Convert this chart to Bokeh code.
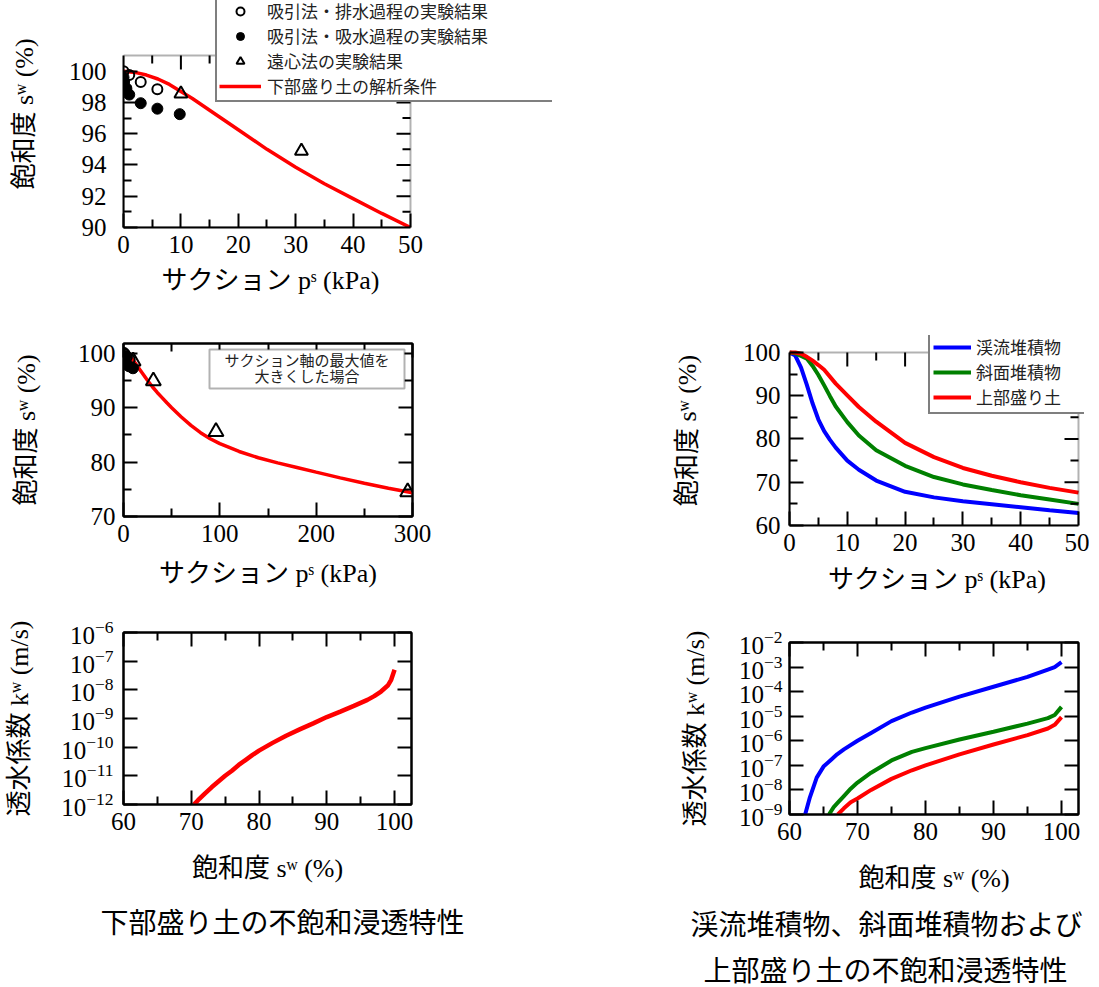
import numpy as np
from bokeh.plotting import figure
from bokeh.models import (FixedTicker, LinearAxis, LogAxis, Label, Legend, LegendItem,
                          BoxAnnotation, Range1d, CustomJSTickFormatter, Title)
from bokeh.layouts import column, row
from bokeh.embed import file_html
from bokeh.resources import INLINE

# ---------------- data ----------------
# 下部盛り土の解析条件 (保水性曲線)
lower_ps = [0, 2, 4, 6, 8, 10, 12, 15, 20, 25, 30, 35, 40, 45, 50, 60, 70, 80, 90, 100,
            120, 140, 160, 180, 200, 225, 250, 275, 300]
lower_sw = [100.0, 99.92, 99.75, 99.5, 99.15, 98.7, 98.25, 97.5, 96.25, 95.0, 93.85, 92.8,
            91.85, 90.9, 90.0, 88.3, 86.75, 85.4, 84.3, 83.4, 81.95, 80.8, 79.85, 79.0,
            78.15, 77.1, 76.1, 75.2, 74.35]

# 吸引法・排水過程の実験結果
drain_ps = [0.0, 1.0, 3.0, 5.9]
drain_sw = [100.0, 99.75, 99.3, 98.85]
# 吸引法・吸水過程の実験結果
wet_ps = [0.0, 0.1, 0.5, 1.0, 3.0, 5.9, 9.8]
wet_sw = [99.6, 99.3, 98.9, 98.5, 97.95, 97.6, 97.25]
# 遠心法の実験結果
cent_ps = [10.0, 31.0, 96.0, 295.0]
cent_sw = [98.55, 94.9, 85.6, 74.5]

# 下部盛り土の透水係数
lower_k_sw = [70.4, 71, 72, 73, 74, 75, 76, 77, 78, 79, 80, 82, 84, 86, 88, 90, 92, 94,
              96, 97, 98, 99, 99.5, 100]
lower_k_log10 = [-12.0, -11.85, -11.62, -11.4, -11.2, -11.0, -10.82, -10.62, -10.45, -10.28,
                 -10.12, -9.85, -9.6, -9.38, -9.17, -8.95, -8.76, -8.56, -8.35, -8.22,
                 -8.06, -7.85, -7.65, -7.3]

# 保水性曲線 (右)
blue_ps = [0, 1, 2, 3, 4, 5, 6, 7, 8, 10, 12, 15, 20, 25, 30, 35, 40, 45, 50]
blue_sw = [100, 99.3, 96.5, 92.5, 88.2, 84.5, 81.8, 79.8, 78.0, 75.0, 72.9, 70.4, 67.8,
           66.5, 65.6, 64.9, 64.2, 63.5, 62.9]
green_ps = [0, 1, 2, 3, 4, 5, 6, 7, 8, 10, 12, 15, 20, 25, 30, 35, 40, 45, 50]
green_sw = [100, 99.8, 99.2, 98.6, 96.9, 94.8, 92.4, 89.9, 87.5, 83.9, 80.8, 77.4, 73.8,
            71.2, 69.5, 68.2, 67.0, 66.0, 65.0]
red_ps = [0, 1, 2, 3, 4, 5, 6, 8, 10, 12, 15, 20, 25, 30, 35, 40, 45, 50]
red_sw = [100, 100, 99.7, 99.0, 98.1, 97.1, 96.0, 92.8, 90.1, 87.4, 84.0, 79.1, 75.8, 73.3,
          71.5, 70.0, 68.7, 67.6]

# 透水係数 (右)
blue_k_sw = [62.3, 63, 64, 65, 66, 67, 68, 70, 72, 75, 78, 80, 85, 90, 95, 98, 99, 100]
blue_k_log10 = [-9.0, -8.3, -7.5, -7.05, -6.8, -6.55, -6.35, -6.0, -5.68, -5.2, -4.85, -4.65,
                -4.2, -3.8, -3.4, -3.1, -3.0, -2.8]
green_k_sw = [65.8, 66.5, 67, 68, 69, 70, 72, 75, 78, 80, 85, 90, 95, 98, 99, 100]
green_k_log10 = [-9.0, -8.7, -8.55, -8.25, -7.95, -7.7, -7.3, -6.8, -6.45, -6.3, -5.95, -5.63,
                 -5.3, -5.08, -4.95, -4.62]
red_k_sw = [67.1, 68, 69, 70, 72, 75, 78, 80, 85, 90, 95, 98, 99, 100]
red_k_log10 = [-9.0, -8.75, -8.5, -8.35, -8.0, -7.55, -7.2, -7.0, -6.55, -6.15, -5.77, -5.5,
               -5.35, -5.04]

legend_a_labels = ["吸引法・排水過程の実験結果", "吸引法・吸水過程の実験結果",
                   "遠心法の実験結果", "下部盛り土の解析条件"]
legend_d_labels = ["渓流堆積物", "斜面堆積物", "上部盛り土"]
note_b = "サクション軸の最大値を\n大きくした場合"
caption_left = "下部盛り土の不飽和浸透特性"
caption_right = ["渓流堆積物、斜面堆積物および", "上部盛り土の不飽和浸透特性"]
label_sw = "飽和度 sʷ (%)"
label_ps = "サクション pˢ (kPa)"
label_kw = "透水係数 kʷ (m/s)"

# ---------------- styling helpers ----------------
FONT = "'Liberation Serif', 'Noto Sans CJK JP'"
BLANK = "return ''"
TICK_MAJOR = 14
TICK_MINOR = 8


def style_axis(ax):
    ax.major_tick_in = TICK_MAJOR
    ax.major_tick_out = 0
    ax.minor_tick_in = TICK_MINOR
    ax.minor_tick_out = 0
    ax.major_tick_line_width = 2
    ax.minor_tick_line_width = 2
    ax.major_tick_line_color = 'black'
    ax.minor_tick_line_color = 'black'
    ax.axis_line_width = 2
    ax.axis_line_color = 'black'
    ax.major_label_text_font = FONT
    ax.major_label_text_font_size = '25px'
    ax.major_label_text_color = 'black'
    ax.axis_label_text_font = FONT
    ax.axis_label_text_font_size = '26px'
    ax.axis_label_text_font_style = 'normal'
    ax.axis_label_text_color = 'black'


def make_fig(fw, fh, bl, br, bt, bb, xr, yr, xt, xm, yt, ym, xlabel, ylabel,
             ylog=False, ystand=8, xstand=8, yls=30, xls=6, box=None):
    """box = (x0, x1, y0, y1): visible axes box when the frame is larger than it."""
    p = figure(frame_width=fw, frame_height=fh, min_border_left=bl, min_border_right=br,
               min_border_top=bt, min_border_bottom=bb, x_range=xr, y_range=yr,
               y_axis_type='log' if ylog else 'linear', toolbar_location=None,
               output_backend='svg', background_fill_color='white', border_fill_color='white')
    p.grid.visible = False
    xtk = FixedTicker(ticks=xt, minor_ticks=xm)
    ytk = FixedTicker(ticks=yt, minor_ticks=ym)
    bottom = p.below[0]
    left = p.left[0]
    bottom.ticker = xtk
    left.ticker = ytk
    style_axis(bottom)
    style_axis(left)
    bottom.major_label_standoff = xstand
    left.major_label_standoff = ystand
    bottom.axis_label = xlabel
    left.axis_label = ylabel
    bottom.axis_label_standoff = xls
    left.axis_label_standoff = yls
    if box is None:
        p.outline_line_color = 'black'
        p.outline_line_width = 2
        top = LinearAxis(ticker=xtk, formatter=CustomJSTickFormatter(code=BLANK))
        right = (LogAxis if ylog else LinearAxis)(ticker=ytk,
                                                  formatter=CustomJSTickFormatter(code=BLANK))
        p.add_layout(top, 'above')
        p.add_layout(right, 'right')
        for ax in (top, right):
            style_axis(ax)
            ax.major_label_standoff = 0
            ax.major_label_text_font_size = '0px'
    else:
        p.outline_line_color = None
        x0, x1, y0, y1 = box
        bottom.bounds = (x0, x1)
        left.bounds = (y0, y1)
    return p


def close_box(p, box, xt, xm, yt, ym):
    """Top and right edges (with inward ticks) of an axes box smaller than the frame."""
    x0, x1, y0, y1 = box
    px_x = p.frame_width / (p.x_range.end - p.x_range.start)
    px_y = p.frame_height / (p.y_range.end - p.y_range.start)
    p.add_layout(BoxAnnotation(left=x0, right=x1, bottom=y0, top=y1, fill_alpha=0,
                               fill_color=None, line_color='black', line_width=2))
    xs, ys = [], []
    for ticks, length in ((xt, TICK_MAJOR), (xm, TICK_MINOR)):
        for t in ticks:
            if x0 < t < x1:
                xs.append([t, t])
                ys.append([y1, y1 - length / px_y])
    for ticks, length in ((yt, TICK_MAJOR), (ym, TICK_MINOR)):
        for t in ticks:
            if y0 < t < y1:
                xs.append([x1, x1 - length / px_x])
                ys.append([t, t])
    p.multi_line(xs, ys, line_color='black', line_width=2)


def title_below(p, text, offset, standoff, size='28px'):
    p.add_layout(Title(text=text, align='left', offset=offset, standoff=standoff,
                       text_font=FONT, text_font_size=size, text_font_style='normal',
                       text_color='black'), 'below')


# ---------------- A: top ----------------
a_box = (0, 50, 90, 101)
a_xt, a_xm = [0, 10, 20, 30, 40, 50], [5, 15, 25, 35, 45]
a_yt, a_ym = [90, 92, 94, 96, 98, 100], [91, 93, 95, 97, 99]
a_mask = np.array(lower_ps) <= 50
pA = make_fig(429, 227, 123, 5, 0, 78, Range1d(0, 74.74), Range1d(90, 104.52),
              a_xt, a_xm, a_yt, a_ym, None, label_sw, ystand=17, yls=27, box=a_box)
title_below(pA, label_ps, 38, 16, size='26px')
rA_line = pA.line(np.array(lower_ps)[a_mask], np.array(lower_sw)[a_mask],
                  line_color='#ff0000', line_width=3.5)
rA_wet = pA.scatter(wet_ps, wet_sw, marker='circle', size=11, fill_color='black',
                    line_color='black')
rA_drain = pA.scatter(drain_ps, drain_sw, marker='circle', size=10, fill_color=None,
                      line_color='black', line_width=2)
rA_cent = pA.scatter(cent_ps, cent_sw, marker='triangle', size=13, fill_color=None,
                     line_color='black', line_width=2)
close_box(pA, a_box, a_xt, a_xm, a_yt, a_ym)
legA = Legend(items=[LegendItem(label=legend_a_labels[0], renderers=[rA_drain]),
                     LegendItem(label=legend_a_labels[1], renderers=[rA_wet]),
                     LegendItem(label=legend_a_labels[2], renderers=[rA_cent]),
                     LegendItem(label=legend_a_labels[3], renderers=[rA_line])],
              location=(92, 125), border_line_color='black', border_line_width=2,
              background_fill_alpha=1, padding=2, spacing=0, glyph_width=42, glyph_height=20,
              label_standoff=6, label_width=283, label_text_font=FONT,
              label_text_line_height=1.0,
              label_text_font_size='17px', label_text_color='#222222', margin=0)
pA.add_layout(legA, 'center')

# ---------------- B: middle-left ----------------
pB = make_fig(289, 173, 123, 98, 38, 80, Range1d(0, 300), Range1d(70, 101.8),
              [0, 100, 200, 300], [50, 150, 250],
              [70, 80, 90, 100], [75, 85, 95], label_ps, label_sw, yls=34, xls=14)
pB.line(lower_ps, lower_sw, line_color='#ff0000', line_width=3.5)
pB.scatter(wet_ps, wet_sw, marker='circle', size=11, fill_color='black', line_color='black')
pB.scatter(drain_ps, drain_sw, marker='circle', size=11, fill_color=None, line_color='black',
           line_width=2)
pB.scatter(cent_ps, cent_sw, marker='triangle', size=15, fill_color=None, line_color='black',
           line_width=2)
pB.add_layout(BoxAnnotation(left=86, right=281, top=167, bottom=128, left_units='screen',
                            right_units='screen', top_units='screen', bottom_units='screen',
                            fill_color='white', fill_alpha=1, line_color='black', line_width=2))
pB.add_layout(Label(x=183.5, y=147.5, x_units='screen', y_units='screen', text=note_b,
                    text_align='center', text_baseline='middle', text_font=FONT,
                    text_font_size='15px', text_line_height=1.05, text_color='#222222'))

# ---------------- C: bottom-left ----------------
pC = make_fig(288, 172, 123, 99, 36, 141, Range1d(60, 102.5), Range1d(1e-12, 1e-6),
              [60, 70, 80, 90, 100], [65, 75, 85, 95],
              [1e-12, 1e-11, 1e-10, 1e-9, 1e-8, 1e-7, 1e-6], [], label_sw, label_kw,
              ylog=True, ystand=10, yls=24, xls=21)
pC.line(lower_k_sw, 10 ** np.array(lower_k_log10), line_color='#ff0000', line_width=4.5)
title_below(pC, caption_left, -23, 40)

# ---------------- D: middle-right ----------------
d_box = (0, 50, 60, 100)
d_xt, d_xm = [0, 10, 20, 30, 40, 50], [5, 15, 25, 35, 45]
d_yt, d_ym = [60, 70, 80, 90, 100], [65, 75, 85, 95]
pD = make_fig(295, 190, 279, 5, 30, 80, Range1d(0, 51.04), Range1d(60, 103.93),
              d_xt, d_xm, d_yt, d_ym, label_ps, label_sw,
              ystand=9, yls=38, xls=11, box=d_box)
rb = pD.line(blue_ps, blue_sw, line_color='#0000ff', line_width=4)
rg = pD.line(green_ps, green_sw, line_color='#008000', line_width=4)
rr = pD.line(red_ps, red_sw, line_color='#ff0000', line_width=4)
close_box(pD, d_box, d_xt, d_xm, d_yt, d_ym)
legD = Legend(items=[LegendItem(label=legend_d_labels[0], renderers=[rb]),
                     LegendItem(label=legend_d_labels[1], renderers=[rg]),
                     LegendItem(label=legend_d_labels[2], renderers=[rr])],
              location=(139, 111), border_line_color='black', border_line_width=2,
              background_fill_alpha=1, padding=3, spacing=0, glyph_width=38, glyph_height=18,
              label_standoff=5, label_width=105, label_text_font=FONT,
              label_text_line_height=1.0,
              label_text_font_size='17px', label_text_color='#222222', margin=0)
pD.add_layout(legD, 'center')

# ---------------- E: bottom-right ----------------
pE = make_fig(289, 172, 279, 6, 37, 173, Range1d(60, 102.5), Range1d(1e-9, 1e-2),
              [60, 70, 80, 90, 100], [65, 75, 85, 95],
              [1e-9, 1e-8, 1e-7, 1e-6, 1e-5, 1e-4, 1e-3, 1e-2], [], label_sw, label_kw,
              ylog=True, ystand=7, yls=26, xls=21)
pE.line(blue_k_sw, 10 ** np.array(blue_k_log10), line_color='#0000ff', line_width=4)
pE.line(green_k_sw, 10 ** np.array(green_k_log10), line_color='#008000', line_width=4)
pE.line(red_k_sw, 10 ** np.array(red_k_log10), line_color='#ff0000', line_width=4)
title_below(pE, caption_right[0], -99, 24)
title_below(pE, caption_right[1], -86, 3)

layout = column(pA, row(column(pB, pC), column(pD, pE)))
open("out.html", "w").write(file_html(layout, INLINE, title="不飽和浸透特性"))
